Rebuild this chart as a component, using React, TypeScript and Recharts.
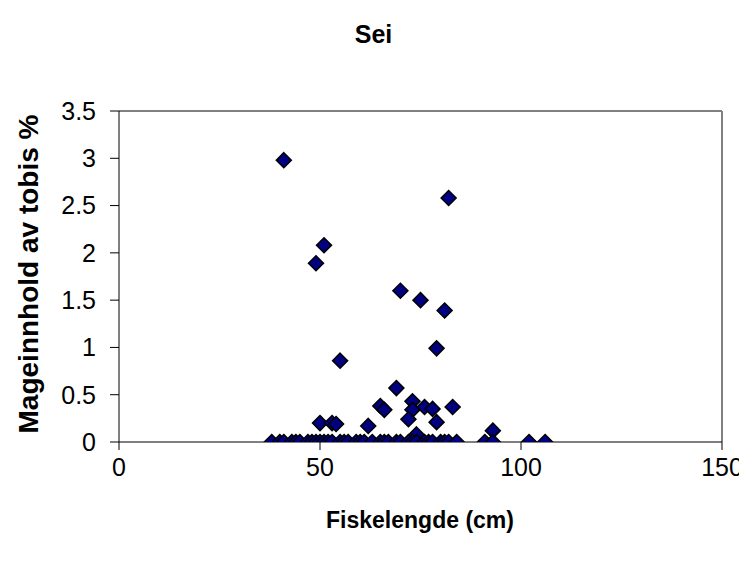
import React from "react";
import { ScatterChart, Scatter, XAxis, YAxis, ReferenceLine } from "recharts";

// Fish length (cm) and stomach content of sandeel (%)
const lengths: number[] = [
  41, 82, 51, 49, 70, 75, 81, 79, 55, 69,
  73, 73, 65, 66, 76, 78, 83, 72, 79, 62,
  74, 50, 53, 54, 93,
  38, 40, 41, 43, 44, 45, 47, 48, 49, 50,
  51, 52, 53, 55, 56, 57, 59, 60, 61, 63,
  65, 66, 67, 69, 70, 72, 73, 74, 76, 77,
  78, 80, 81, 82, 84, 91, 93, 102, 106,
];
const contents: number[] = [
  2.98, 2.58, 2.08, 1.89, 1.6, 1.5, 1.39, 0.99, 0.86, 0.57,
  0.43, 0.34, 0.38, 0.34, 0.37, 0.35, 0.37, 0.24, 0.21, 0.17,
  0.08, 0.2, 0.2, 0.19, 0.12,
  0, 0, 0, 0, 0, 0, 0, 0, 0, 0,
  0, 0, 0, 0, 0, 0, 0, 0, 0, 0,
  0, 0, 0, 0, 0, 0, 0, 0, 0, 0,
  0, 0, 0, 0, 0, 0, 0, 0, 0,
];
const xTicks = [0, 50, 100, 150];
const yTicks = [0, 0.5, 1, 1.5, 2, 2.5, 3, 3.5];

const data = lengths.map((x, i) => ({ x, y: contents[i] }));

const Diamond = (props: any) => {
  const { cx, cy } = props;
  if (cx == null || cy == null) return null;
  const r = 7.5;
  return (
    <polygon
      points={`${cx},${cy - r} ${cx + r},${cy} ${cx},${cy + r} ${cx - r},${cy}`}
      fill="#000080"
      stroke="#000000"
      strokeWidth={1.5}
    />
  );
};

const font = "'Liberation Sans', Arial, sans-serif";

export default function App() {
  return (
    <div style={{ position: "relative", width: 739, height: 545, fontFamily: font }}>
      <div
        style={{
          position: "absolute",
          left: 0,
          width: 731,
          top: 12,
          textAlign: "center",
          fontWeight: "bold",
          fontSize: 25,
          lineHeight: "28px",
        }}
      >
        Sei
      </div>
      <div
        style={{
          position: "absolute",
          left: 412,
          top: 499,
          transform: "translateX(-50%)",
          whiteSpace: "nowrap",
          fontWeight: "bold",
          fontSize: 23,
          lineHeight: "26px",
        }}
      >
        Fiskelengde (cm)
      </div>
      <div
        style={{
          position: "absolute",
          left: 21,
          top: 266,
          transform: "translate(-50%, -50%) rotate(-90deg)",
          whiteSpace: "nowrap",
          fontWeight: "bold",
          fontSize: 28,
          lineHeight: "30px",
        }}
      >
        Mageinnhold av tobis %
      </div>
      <ScatterChart
        width={739}
        height={545}
        margin={{ top: 103, right: 25, left: 41, bottom: 81 }}
        style={{ position: "absolute", left: 0, top: 0 }}
      >
        <XAxis
          type="number"
          dataKey="x"
          domain={[0, 150]}
          ticks={xTicks}
          height={30}
          tickSize={8}
          tickMargin={8}
          stroke="#000"
          tick={{ fill: "#000", fontSize: 25, fontFamily: font }}
          allowDataOverflow
        />
        <YAxis
          type="number"
          dataKey="y"
          domain={[0, 3.5]}
          ticks={yTicks}
          width={70}
          tickSize={9}
          tickMargin={14}
          stroke="#000"
          tick={{ fill: "#000", fontSize: 25, fontFamily: font }}
          allowDataOverflow
        />
        <ReferenceLine y={3.5} stroke="#808080" strokeWidth={2} />
        <ReferenceLine x={150} stroke="#808080" strokeWidth={2} />
        <Scatter data={data} shape={<Diamond />} isAnimationActive={false} />
      </ScatterChart>
    </div>
  );
}
